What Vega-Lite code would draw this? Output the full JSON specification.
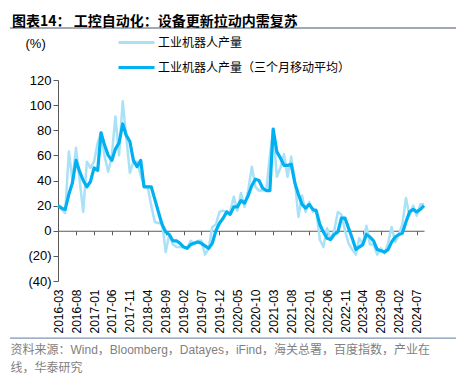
{
  "$schema": "https://vega.github.io/schema/vega-lite/v6.json",
  "autosize": "none",
  "width": 366,
  "height": 201,
  "padding": {"left": 58, "top": 80, "right": 32, "bottom": 100},
  "background": "white",
  "title": {
    "text": "图表14： 工控自动化：设备更新拉动内需复苏",
    "anchor": "start",
    "frame": "group",
    "dx": -46,
    "dy": 10,
    "fontSize": 14,
    "fontWeight": "bold",
    "font": "Noto Sans CJK SC",
    "color": "#000000",
    "offset": 8
  },
  "data": {
    "values": [
      {"d": "2016-03-01", "a": 20, "m": 20},
      {"d": "2016-04-01", "a": 17, "m": 18},
      {"d": "2016-05-01", "a": 14, "m": 17},
      {"d": "2016-06-01", "a": 63, "m": 29},
      {"d": "2016-07-01", "a": 40, "m": 38},
      {"d": "2016-08-01", "a": 66, "m": 56},
      {"d": "2016-09-01", "a": 40, "m": 47},
      {"d": "2016-10-01", "a": 15, "m": 40},
      {"d": "2016-11-01", "a": 55, "m": 35},
      {"d": "2016-12-01", "a": 50, "m": 39},
      {"d": "2017-01-01", "a": 55, "m": 50},
      {"d": "2017-02-01", "a": 70, "m": 48},
      {"d": "2017-03-01", "a": 78, "m": 78},
      {"d": "2017-04-01", "a": 59, "m": 68},
      {"d": "2017-05-01", "a": 47, "m": 60},
      {"d": "2017-06-01", "a": 60, "m": 56},
      {"d": "2017-07-01", "a": 91, "m": 65},
      {"d": "2017-08-01", "a": 60, "m": 70},
      {"d": "2017-09-01", "a": 103, "m": 85},
      {"d": "2017-10-01", "a": 75, "m": 76},
      {"d": "2017-11-01", "a": 46, "m": 71},
      {"d": "2017-12-01", "a": 55, "m": 56},
      {"d": "2018-01-01", "a": 55, "m": 51},
      {"d": "2018-02-01", "a": 44, "m": 56},
      {"d": "2018-03-01", "a": 36, "m": 35},
      {"d": "2018-04-01", "a": 35, "m": 35},
      {"d": "2018-05-01", "a": 20, "m": 35},
      {"d": "2018-06-01", "a": 7, "m": 25},
      {"d": "2018-07-01", "a": 6, "m": 15},
      {"d": "2018-08-01", "a": 7, "m": 5},
      {"d": "2018-09-01", "a": -17, "m": -1},
      {"d": "2018-10-01", "a": -3, "m": -3},
      {"d": "2018-11-01", "a": -11, "m": -8},
      {"d": "2018-12-01", "a": -13, "m": -8},
      {"d": "2019-01-01", "a": -13, "m": -10},
      {"d": "2019-02-01", "a": -13, "m": -13},
      {"d": "2019-03-01", "a": -14, "m": -14},
      {"d": "2019-04-01", "a": -8, "m": -11},
      {"d": "2019-05-01", "a": -10, "m": -10},
      {"d": "2019-06-01", "a": -8, "m": -9},
      {"d": "2019-07-01", "a": -8, "m": -10},
      {"d": "2019-08-01", "a": -19, "m": -12},
      {"d": "2019-09-01", "a": -14, "m": -14},
      {"d": "2019-10-01", "a": 3, "m": -10},
      {"d": "2019-11-01", "a": 5, "m": 0},
      {"d": "2019-12-01", "a": 15, "m": 6},
      {"d": "2020-01-01", "a": 16, "m": 10},
      {"d": "2020-02-01", "a": 15, "m": 15},
      {"d": "2020-03-01", "a": 15, "m": 13},
      {"d": "2020-04-01", "a": 27, "m": 19},
      {"d": "2020-05-01", "a": 16, "m": 19},
      {"d": "2020-06-01", "a": 30, "m": 24},
      {"d": "2020-07-01", "a": 19, "m": 22},
      {"d": "2020-08-01", "a": 32, "m": 28},
      {"d": "2020-09-01", "a": 51, "m": 36},
      {"d": "2020-10-01", "a": 35, "m": 41},
      {"d": "2020-11-01", "a": 32, "m": 40},
      {"d": "2020-12-01", "a": 32, "m": 34},
      {"d": "2021-01-01", "a": 32, "m": 32},
      {"d": "2021-02-01", "a": 60, "m": 32},
      {"d": "2021-03-01", "a": 81, "m": 81},
      {"d": "2021-04-01", "a": 43, "m": 63},
      {"d": "2021-05-01", "a": 50, "m": 58},
      {"d": "2021-06-01", "a": 61, "m": 52},
      {"d": "2021-07-01", "a": 43, "m": 52},
      {"d": "2021-08-01", "a": 59, "m": 53},
      {"d": "2021-09-01", "a": 40, "m": 38},
      {"d": "2021-10-01", "a": 11, "m": 29},
      {"d": "2021-11-01", "a": 28, "m": 21},
      {"d": "2021-12-01", "a": 15, "m": 18},
      {"d": "2022-01-01", "a": 23, "m": 21},
      {"d": "2022-02-01", "a": 15, "m": 17},
      {"d": "2022-03-01", "a": 17, "m": 16},
      {"d": "2022-04-01", "a": -7, "m": 5},
      {"d": "2022-05-01", "a": -13, "m": -1},
      {"d": "2022-06-01", "a": 2, "m": -6},
      {"d": "2022-07-01", "a": -7, "m": -7},
      {"d": "2022-08-01", "a": 0, "m": -3},
      {"d": "2022-09-01", "a": 15, "m": -1},
      {"d": "2022-10-01", "a": 13, "m": 10},
      {"d": "2022-11-01", "a": 0, "m": 10},
      {"d": "2022-12-01", "a": -10, "m": 2},
      {"d": "2023-01-01", "a": -15, "m": -6},
      {"d": "2023-02-01", "a": -19, "m": -15},
      {"d": "2023-03-01", "a": -6, "m": -13},
      {"d": "2023-04-01", "a": -11, "m": -11},
      {"d": "2023-05-01", "a": 4, "m": -3},
      {"d": "2023-06-01", "a": -11, "m": -5},
      {"d": "2023-07-01", "a": -11, "m": -8},
      {"d": "2023-08-01", "a": -19, "m": -15},
      {"d": "2023-09-01", "a": -14, "m": -16},
      {"d": "2023-10-01", "a": -18, "m": -17},
      {"d": "2023-11-01", "a": -10, "m": -15},
      {"d": "2023-12-01", "a": 3, "m": -9},
      {"d": "2024-01-01", "a": -9, "m": -5},
      {"d": "2024-02-01", "a": -3, "m": -3},
      {"d": "2024-03-01", "a": 5, "m": -2},
      {"d": "2024-04-01", "a": 26, "m": 7},
      {"d": "2024-05-01", "a": 12, "m": 15},
      {"d": "2024-06-01", "a": 20, "m": 17},
      {"d": "2024-07-01", "a": 12, "m": 15},
      {"d": "2024-08-01", "a": 21, "m": 17},
      {"d": "2024-09-01", "a": 21, "m": 20}
    ]
  },
  "resolve": {"axis": {"x": "independent"}},
  "layer": [
    {
      "mark": {"type": "line", "strokeWidth": 2.5, "strokeJoin": "round"},
      "encoding": {
        "x": {
          "field": "d", "type": "temporal",
          "scale": {"type": "utc", "domain": [{"year": 2016, "month": 3, "date": 1, "utc": true}, {"year": 2024, "month": 9, "date": 1, "utc": true}]},
          "axis": {
            "orient": "bottom",
            "offset": -50.25,
            "labels": false,
            "title": null,
            "grid": false,
            "domain": true,
            "domainColor": "#595959",
            "domainWidth": 1,
            "ticks": true,
            "tickColor": "#595959",
            "tickSize": 4,
            "values": [
              {"year": 2016, "month": 8, "date": 1, "utc": true},
              {"year": 2017, "month": 1, "date": 1, "utc": true},
              {"year": 2017, "month": 6, "date": 1, "utc": true},
              {"year": 2017, "month": 11, "date": 1, "utc": true},
              {"year": 2018, "month": 4, "date": 1, "utc": true},
              {"year": 2018, "month": 9, "date": 1, "utc": true},
              {"year": 2019, "month": 2, "date": 1, "utc": true},
              {"year": 2019, "month": 7, "date": 1, "utc": true},
              {"year": 2019, "month": 12, "date": 1, "utc": true},
              {"year": 2020, "month": 5, "date": 1, "utc": true},
              {"year": 2020, "month": 10, "date": 1, "utc": true},
              {"year": 2021, "month": 3, "date": 1, "utc": true},
              {"year": 2021, "month": 8, "date": 1, "utc": true},
              {"year": 2022, "month": 1, "date": 1, "utc": true},
              {"year": 2022, "month": 6, "date": 1, "utc": true},
              {"year": 2022, "month": 11, "date": 1, "utc": true},
              {"year": 2023, "month": 4, "date": 1, "utc": true},
              {"year": 2023, "month": 9, "date": 1, "utc": true},
              {"year": 2024, "month": 2, "date": 1, "utc": true},
              {"year": 2024, "month": 7, "date": 1, "utc": true}
            ]
          }
        },
        "y": {
          "field": "a", "type": "quantitative",
          "scale": {"domain": [-40, 120], "nice": false, "zero": false},
          "axis": {"title": "(%)"}
        },
        "color": {
          "datum": "工业机器人产量",
          "type": "nominal",
          "scale": {"domain": ["工业机器人产量", "工业机器人产量（三个月移动平均）"], "range": ["#a9e1f7", "#00b0f0"]},
          "legend": {"title": null}
        }
      }
    },
    {
      "mark": {"type": "line", "strokeWidth": 3.2, "strokeJoin": "round"},
      "encoding": {
        "x": {
          "field": "d", "type": "temporal",
          "axis": {
            "orient": "bottom",
            "grid": false,
            "domain": false,
            "ticks": false,
            "tickSize": 0,
            "labelAngle": 270,
            "labelPadding": 8,
            "labelFont": "Liberation Sans",
            "labelFontSize": 12,
            "labelColor": "#000000",
            "labelExpr": "utcFormat(datum.value, '%Y-%m')",
            "labelOverlap": false,
            "labelFlush": false,
            "values": [
              {"year": 2016, "month": 3, "date": 1, "utc": true},
              {"year": 2016, "month": 8, "date": 1, "utc": true},
              {"year": 2017, "month": 1, "date": 1, "utc": true},
              {"year": 2017, "month": 6, "date": 1, "utc": true},
              {"year": 2017, "month": 11, "date": 1, "utc": true},
              {"year": 2018, "month": 4, "date": 1, "utc": true},
              {"year": 2018, "month": 9, "date": 1, "utc": true},
              {"year": 2019, "month": 2, "date": 1, "utc": true},
              {"year": 2019, "month": 7, "date": 1, "utc": true},
              {"year": 2019, "month": 12, "date": 1, "utc": true},
              {"year": 2020, "month": 5, "date": 1, "utc": true},
              {"year": 2020, "month": 10, "date": 1, "utc": true},
              {"year": 2021, "month": 3, "date": 1, "utc": true},
              {"year": 2021, "month": 8, "date": 1, "utc": true},
              {"year": 2022, "month": 1, "date": 1, "utc": true},
              {"year": 2022, "month": 6, "date": 1, "utc": true},
              {"year": 2022, "month": 11, "date": 1, "utc": true},
              {"year": 2023, "month": 4, "date": 1, "utc": true},
              {"year": 2023, "month": 9, "date": 1, "utc": true},
              {"year": 2024, "month": 2, "date": 1, "utc": true},
              {"year": 2024, "month": 7, "date": 1, "utc": true}
            ],
            "title": ["资料来源：Wind，Bloomberg，Datayes，iFind，海关总署，百度指数，产业在", "线，华泰研究"],
            "titleX": -48,
            "titleY": 63,
            "titleAlign": "left",
            "titleAnchor": "start",
            "titleBaseline": "top",
            "titleFont": "Liberation Sans, Noto Sans CJK SC",
            "titleFontSize": 12,
            "titleFontWeight": "normal",
            "titleColor": "#7f7f7f",
            "titleLineHeight": 18
          }
        },
        "y": {
          "field": "m", "type": "quantitative",
          "axis": {"title": "(%)"}
        },
        "color": {
          "datum": "工业机器人产量（三个月移动平均）",
          "type": "nominal"
        }
      }
    },
    {
      "data": {"values": [{}]},
      "mark": {"type": "rule", "color": "#44546a", "strokeWidth": 1.2, "clip": false},
      "encoding": {
        "x": {"datum": {"year": 2015, "month": 1, "date": 19, "utc": true}, "type": "temporal", "axis": null},
        "x2": {"datum": {"year": 2025, "month": 7, "date": 1, "utc": true}},
        "y": {"datum": 161.4, "type": "quantitative", "axis": {"title": "(%)"}}
      }
    },
    {
      "data": {"values": [{}]},
      "mark": {"type": "rule", "color": "#7f94b5", "strokeWidth": 1.2, "clip": false},
      "encoding": {
        "x": {"datum": {"year": 2015, "month": 1, "date": 19, "utc": true}, "type": "temporal", "axis": null},
        "x2": {"datum": {"year": 2025, "month": 7, "date": 1, "utc": true}},
        "y": {"datum": -85.4, "type": "quantitative", "axis": {"title": "(%)"}}
      }
    }
  ],
  "config": {
    "view": {"stroke": null},
    "axisY": {
      "values": [-40, -20, 0, 20, 40, 60, 80, 100, 120],
      "labelExpr": "datum.value < 0 ? '(' + abs(datum.value) + ')' : datum.value",
      "grid": false,
      "domainColor": "#595959",
      "tickColor": "#595959",
      "tickSize": 5,
      "labelPadding": 2,
      "labelFont": "Liberation Sans",
      "labelFontSize": 13,
      "labelColor": "#000000",
      "titleAngle": 0,
      "titleX": -33,
      "titleY": -37,
      "titleAlign": "left",
      "titleBaseline": "middle",
      "titleFont": "Liberation Sans",
      "titleFontSize": 13,
      "titleFontWeight": "normal",
      "titleColor": "#000000"
    },
    "legend": {
      "orient": "none",
      "legendX": 59,
      "legendY": -45,
      "direction": "vertical",
      "symbolType": "M-1,0H5",
      "symbolSize": 144,
      "symbolStrokeWidth": 3,
      "labelFont": "Noto Sans CJK SC",
      "labelFontSize": 12,
      "labelColor": "#000000",
      "labelOffset": 26,
      "labelLimit": 400,
      "rowPadding": 11
    }
  }
}
